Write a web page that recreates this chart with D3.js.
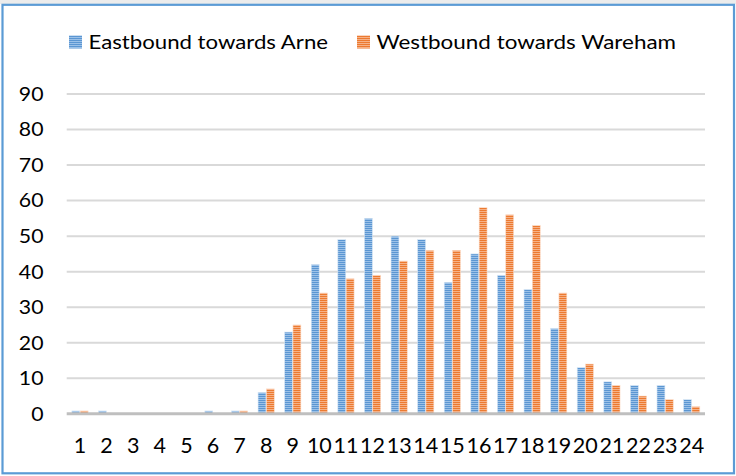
<!DOCTYPE html>
<html>
<head>
<meta charset="utf-8">
<script src="https://cdn.jsdelivr.net/npm/d3@7"></script>
<style>
  html, body { margin: 0; padding: 0; background: #fff; }
  svg { display: block; }
  text { font-family: Lato, "Open Sans", sans-serif; fill: #000; }
</style>
</head>
<body>
<svg id="chart" width="736" height="476"></svg>
<script>
// Hourly traffic counts by direction
const hours = [1, 2, 3, 4, 5, 6, 7, 8, 9, 10, 11, 12, 13, 14, 15, 16, 17, 18, 19, 20, 21, 22, 23, 24];
const eastbound = [0.8, 0.8, 0, 0, 0, 0.8, 0.8, 6, 23, 42, 49, 55, 50, 49, 37, 45, 39, 35, 24, 13, 9, 8, 8, 4];
const westbound = [0.8, 0, 0, 0, 0, 0, 0.8, 7, 25, 34, 38, 39, 43, 46, 46, 58, 56, 53, 34, 14, 8, 5, 4, 2];
const seriesNames = ["Eastbound towards Arne", "Westbound towards Wareham"];
const yTicks = [0, 10, 20, 30, 40, 50, 60, 70, 80, 90];

const svg = d3.select("#chart");
const W = 736, H = 476;

// faint strip above the frame
svg.append("rect").attr("x", 0).attr("y", 0).attr("width", W).attr("height", 4)
  .attr("fill", "#ececec");

// chart frame
svg.append("rect")
  .attr("x", 2.5).attr("y", 4.8).attr("width", 731.5).attr("height", 468.5)
  .attr("fill", "#fff").attr("stroke", "#5b9bd5").attr("stroke-width", 2.2);

// striped fills for the two series
const defs = svg.append("defs");
const fills = [
  { id: "stripeBlue", dark: "#5b96d2", light: "#9bc1e8" },
  { id: "stripeOrange", dark: "#ec7a30", light: "#f6b187" }
];
fills.forEach(f => {
  const p = defs.append("pattern").attr("id", f.id)
    .attr("patternUnits", "userSpaceOnUse").attr("width", 4).attr("height", 2);
  p.append("rect").attr("x", 0).attr("y", 0).attr("width", 4).attr("height", 1).attr("fill", f.dark);
  p.append("rect").attr("x", 0).attr("y", 1).attr("width", 4).attr("height", 1).attr("fill", f.light);
});

const x = d3.scaleBand().domain(hours).range([66.7, 705])
  .paddingInner(0.39).paddingOuter(0.195);
const xs = d3.scaleBand().domain([0, 1]).range([0, x.bandwidth()]).paddingInner(0.05);
const y = d3.scaleLinear().domain([0, 90]).range([413.8, 94]);

// gridlines
svg.append("g").selectAll("line").data(yTicks.filter(t => t > 0)).join("line")
  .attr("x1", 66.7).attr("x2", 705)
  .attr("y1", d => y(d)).attr("y2", d => y(d))
  .attr("stroke", "#d9d9d9").attr("stroke-width", 2);

// y tick labels, slightly widened
svg.append("g").selectAll("text").data(yTicks).join("text")
  .attr("transform", d => `translate(43.5,${y(d)}) scale(1.12,1)`)
  .attr("text-anchor", "end").attr("dy", "0.36em")
  .attr("font-size", 19).text(d => d);

// bars
const series = [eastbound, westbound];
const strokes = ["#d6e5f4", "#fbdcc8"];
series.forEach((vals, si) => {
  svg.append("g").selectAll("rect").data(hours).join("rect")
    .attr("x", (h) => x(h) + xs(si))
    .attr("width", xs.bandwidth())
    .attr("y", (h, i) => y(vals[i]))
    .attr("height", (h, i) => y(0) - y(vals[i]))
    .attr("fill", `url(#${fills[si].id})`)
    .attr("stroke", strokes[si]).attr("stroke-width", 0.6)
    .style("display", (h, i) => vals[i] > 0 ? null : "none");
});

// category axis line
svg.append("line").attr("x1", 66.7).attr("x2", 705)
  .attr("y1", y(0)).attr("y2", y(0))
  .attr("stroke", "#bfbfbf").attr("stroke-width", 3);

// x tick labels
svg.append("g").selectAll("text").data(hours).join("text")
  .attr("x", d => x(d) + x.bandwidth() / 2).attr("y", 452.5)
  .attr("text-anchor", "middle").attr("font-size", 21.5).text(d => d);

// legend
const legendItems = [
  { name: seriesNames[0], fill: "url(#stripeBlue)", sx: 69, tx: 88.5, len: 239.5 },
  { name: seriesNames[1], fill: "url(#stripeOrange)", sx: 357, tx: 376.5, len: 299.5 }
];
const lg = svg.append("g");
legendItems.forEach(it => {
  lg.append("rect").attr("x", it.sx).attr("y", 35.5).attr("width", 13).attr("height", 13)
    .attr("fill", it.fill);
  lg.append("text").attr("x", it.tx).attr("y", 48.5).attr("font-size", 19.5)
    .attr("textLength", it.len).attr("lengthAdjust", "spacingAndGlyphs")
    .text(it.name);
});
</script>
</body>
</html>
